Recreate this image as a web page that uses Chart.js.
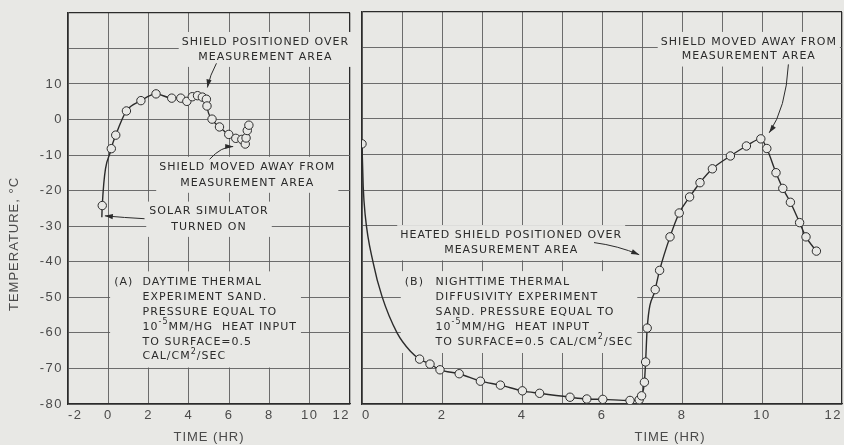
<!DOCTYPE html>
<html><head><meta charset="utf-8">
<script src="https://cdn.jsdelivr.net/npm/chart.js@4.4.0/dist/chart.umd.min.js"></script>
<style>
html,body{margin:0;padding:0;background:#e8e8e5;overflow:hidden;width:844px;height:445px}
#a{position:absolute;left:0;top:0}
#b{position:absolute;left:340px;top:0}
</style></head><body>
<canvas id="a" width="372" height="445"></canvas>
<canvas id="b" width="524" height="445"></canvas>
<script>
// ---- data ----
const dayTime   = [-0.32, -0.3, 0.15, 0.37, 0.9, 1.62, 2.37, 3.15, 3.6, 3.9, 4.17, 4.43, 4.67, 4.87, 4.9, 5.15, 5.52, 5.98, 6.33, 6.63, 6.8, 6.84, 6.9, 6.98];
const dayTemp   = [-27.5, -24.2, -8.2, -4.4, 2.4, 5.3, 7.2, 6.0, 6.0, 5.1, 6.4, 6.7, 6.3, 5.7, 3.8, 0.1, -2.1, -4.2, -5.3, -5.6, -6.9, -5.2, -3.1, -1.6];
const dayMarked = [0,1,1,1,1,1,1,1,1,1,1,1,1,1,1,1,1,1,1,1,1,1,1,1];

const nightTime   = [0, 0.03, 0.08, 0.28, 0.5, 0.88, 1.21, 1.44, 1.70, 1.95, 2.43, 2.96, 3.46, 4.01, 4.44, 5.2, 5.62, 6.02, 6.7, 6.93, 6.99, 7.06, 7.09, 7.13, 7.33, 7.44, 7.70, 7.93, 8.19, 8.45, 8.76, 9.21, 9.61, 9.97, 10.12, 10.35, 10.52, 10.71, 10.94, 11.1, 11.36];
const nightTemp   = [-7, -18.9, -27, -40.4, -49.8, -60.1, -65.2, -67.4, -68.8, -70.4, -71.5, -73.6, -74.7, -76.3, -77.0, -78.1, -78.6, -78.7, -79.0, -78.8, -77.7, -73.9, -68.2, -58.7, -47.9, -42.5, -33.1, -26.4, -21.9, -17.9, -14.0, -10.4, -7.6, -5.6, -8.3, -15.1, -19.5, -23.4, -29.1, -33.1, -37.1];
const nightMarked = [1,0,0,0,0,0,0,1,1,1,1,1,1,1,1,1,1,1,1,1,1,1,1,1,1,1,1,1,1,1,1,1,1,1,1,1,1,1,1,1,1];

const tempTickLabels = [-80,-70,-60,-50,-40,-30,-20,-10,0,10];
const dayTimeLabels  = [-2,0,2,4,6,8,10,12];
const nightTimeLabels= [0,2,4,6,8,10,12];

const yTitle = 'TEMPERATURE, \u00B0C';
const xTitle = 'TIME (HR)';

const INK = '#2b2b2b', GRID = '#5e5e5e', BG = '#e8e8e5', TICKC = '#4a4a4a';
const ANNO_FONT = '11px "DejaVu Sans"';

const toXY = (xs, ys) => xs.map((x, i) => ({x, y: ys[i]}));

function drawArrow(ctx, p0, c, p1) {
  ctx.save();
  ctx.strokeStyle = INK; ctx.fillStyle = INK; ctx.lineWidth = 1;
  ctx.beginPath(); ctx.moveTo(p0.x, p0.y); ctx.quadraticCurveTo(c.x, c.y, p1.x, p1.y); ctx.stroke();
  const ang = Math.atan2(p1.y - c.y, p1.x - c.x);
  const L = 8, W = 2.6;
  ctx.beginPath();
  ctx.moveTo(p1.x, p1.y);
  ctx.lineTo(p1.x - L*Math.cos(ang) + W*Math.sin(ang), p1.y - L*Math.sin(ang) - W*Math.cos(ang));
  ctx.lineTo(p1.x - L*Math.cos(ang) - W*Math.sin(ang), p1.y - L*Math.sin(ang) + W*Math.cos(ang));
  ctx.closePath(); ctx.fill();
  ctx.restore();
}

// draw text lines (supports [text, super] pieces), with a background box that hides the grid
function drawBlock(ctx, items, pad) {
  ctx.save();
  ctx.font = ANNO_FONT;
  ctx.letterSpacing = '1px';
  ctx.textBaseline = 'middle';
  let minX = Infinity, maxX = -Infinity, minY = Infinity, maxY = -Infinity;
  const laid = items.map(it => {
    const parts = Array.isArray(it.text) ? it.text : [[it.text, 0]];
    let w = 0;
    parts.forEach(p => { ctx.font = p[1] ? '8px "DejaVu Sans"' : ANNO_FONT; w += ctx.measureText(p[0]).width; });
    let x0 = it.align === 'center' ? it.x - w/2 : it.x;
    minX = Math.min(minX, x0); maxX = Math.max(maxX, x0 + w);
    minY = Math.min(minY, it.y - 7); maxY = Math.max(maxY, it.y + 7);
    return {parts, x0, y: it.y};
  });
  ctx.fillStyle = BG;
  ctx.fillRect(minX - pad, minY - pad, maxX - minX + 2*pad, maxY - minY + 2*pad);
  ctx.fillStyle = INK;
  laid.forEach(l => {
    let x = l.x0;
    l.parts.forEach(p => {
      ctx.font = p[1] ? '8px "DejaVu Sans"' : ANNO_FONT;
      ctx.fillText(p[0], x, p[1] ? l.y - 5 : l.y);
      x += ctx.measureText(p[0]).width;
    });
  });
  ctx.restore();
}

function scalesFor(xMin, xMax, xStep, labelsX, showY, tickAlign) {
  return {
    x: {
      type: 'linear', min: xMin, max: xMax,
      afterFit: s => { s.height = 41; },
      afterBuildTicks: s => { const t=[]; for (let v=xMin; v<=xMax+1e-9; v+=xStep) t.push({value: v}); s.ticks = t; },
      ticks: {
        autoSkip: false, maxRotation: 0, padding: 4, color: TICKC, align: tickAlign,
        font: {family: '"Liberation Sans"', size: 13},
        callback: v => labelsX.includes(v) ? String(v) : ''
      },
      grid: { color: c => (c.tick && c.tick.value === xMax) ? INK : GRID, lineWidth: c => (c.tick && c.tick.value === xMax) ? 1.3 : 0.9, drawTicks: false },
      border: { display: true, color: INK, width: 1.3 }
    },
    y: {
      type: 'linear', min: -80, max: 30,
      afterFit: s => { s.width = showY ? 68 : 22; },
      afterBuildTicks: s => { const t=[]; for (let v=-80; v<=30; v+=10) t.push({value: v}); s.ticks = t; },
      ticks: {
        display: showY, padding: 5, color: TICKC,
        font: {family: '"Liberation Sans"', size: 13},
        callback: v => tempTickLabels.includes(v) ? String(v) : ''
      },
      grid: { color: c => (c.tick && c.tick.value === 30) ? INK : GRID, lineWidth: c => (c.tick && c.tick.value === 30) ? 1.3 : 0.9, drawTicks: false },
      border: { display: true, color: INK, width: 1.3 }
    }
  };
}

function dataset(xs, ys, marked) {
  return {
    data: toXY(xs, ys),
    borderColor: INK, borderWidth: 1.4,
    pointRadius: ctx => marked[ctx.dataIndex] ? 4.2 : 0,
    pointBackgroundColor: BG, pointBorderColor: INK, pointBorderWidth: 1,
    cubicInterpolationMode: 'monotone', fill: false
  };
}

const spacing = { id: 'spacing', beforeDraw(chart) { chart.ctx.letterSpacing = '1.5px'; } };

// ---- left panel (A) ----
const annoA = {
  id: 'annoA',
  beforeDatasetsDraw(chart) {
    const {ctx, scales: {x, y}} = chart;
    const P = (a, b) => ({x: x.getPixelForValue(a), y: y.getPixelForValue(b)});
    drawBlock(ctx, [
      {text: 'SHIELD POSITIONED OVER', x: P(7.8,0).x, y: P(0,21.8).y, align: 'center'},
      {text: 'MEASUREMENT AREA', x: P(7.8,0).x, y: P(0,17.6).y, align: 'center'}
    ], 3);
    drawBlock(ctx, [
      {text: 'SHIELD MOVED AWAY FROM', x: P(6.9,0).x, y: P(0,-13.3).y, align: 'center'},
      {text: 'MEASUREMENT AREA', x: P(6.9,0).x, y: P(0,-17.8).y, align: 'center'}
    ], 3);
    drawBlock(ctx, [
      {text: 'SOLAR SIMULATOR', x: P(5.0,0).x, y: P(0,-25.9).y, align: 'center'},
      {text: 'TURNED ON', x: P(5.0,0).x, y: P(0,-30.2).y, align: 'center'}
    ], 3);
    const lx = P(1.7,0).x, y0 = -45.8, dy = 4.17;
    drawBlock(ctx, [
      {text: '(A)', x: P(0.29,0).x, y: P(0,y0).y, align: 'left'},
      {text: 'DAYTIME THERMAL', x: lx, y: P(0,y0).y, align: 'left'},
      {text: 'EXPERIMENT SAND.', x: lx, y: P(0,y0-dy).y, align: 'left'},
      {text: 'PRESSURE EQUAL TO', x: lx, y: P(0,y0-2*dy).y, align: 'left'},
      {text: [['10',0],['-5',1],['MM/HG  HEAT INPUT',0]], x: lx, y: P(0,y0-3*dy).y, align: 'left'},
      {text: 'TO SURFACE=0.5', x: lx, y: P(0,y0-4*dy).y, align: 'left'},
      {text: [['CAL/CM',0],['2',1],['/SEC',0]], x: lx, y: P(0,y0-5*dy).y, align: 'left'}
    ], 4);
    drawArrow(ctx, P(5.37,15.8), P(5.05,12.5), P(4.92,9.0));
    drawArrow(ctx, P(5.03,-11.2), P(5.6,-7.6), P(6.2,-7.6));
    drawArrow(ctx, P(1.8,-27.9), P(0.8,-27.6), P(-0.17,-27.1));
  },
  afterDraw(chart) {
    const {ctx, chartArea, scales: {y}} = chart;
    ctx.save();
    ctx.letterSpacing = '1px';
    ctx.fillStyle = TICKC; ctx.font = '13px "Liberation Sans"';
    ctx.textAlign = 'center'; ctx.textBaseline = 'middle';
    ctx.fillText(xTitle, (chartArea.left + chartArea.right)/2, 437);
    ctx.translate(14, y.getPixelForValue(-35));
    ctx.rotate(-Math.PI/2);
    ctx.fillText(yTitle, 0, 0);
    ctx.restore();
  }
};

new Chart(document.getElementById('a'), {
  type: 'line',
  data: { datasets: [dataset(dayTime, dayTemp, dayMarked)] },
  options: {
    responsive: false, animation: false,
    layout: { padding: { top: 12, right: 22, left: 0, bottom: 0 } },
    plugins: { legend: {display: false}, tooltip: {enabled: false} },
    scales: scalesFor(-2, 12, 2, dayTimeLabels, true, 'inner')
  },
  plugins: [spacing, annoA]
});

// ---- right panel (B) ----
const annoB = {
  id: 'annoB',
  beforeDatasetsDraw(chart) {
    const {ctx, scales: {x, y}} = chart;
    const P = (a, b) => ({x: x.getPixelForValue(a), y: y.getPixelForValue(b)});
    drawBlock(ctx, [
      {text: 'HEATED SHIELD POSITIONED OVER', x: P(3.73,0).x, y: P(0,-32.6).y, align: 'center'},
      {text: 'MEASUREMENT AREA', x: P(3.73,0).x, y: P(0,-36.9).y, align: 'center'}
    ], 3);
    const lx = P(1.84,0).x, y0 = -45.8, dy = 4.2;
    drawBlock(ctx, [
      {text: '(B)', x: P(1.07,0).x, y: P(0,y0).y, align: 'left'},
      {text: 'NIGHTTIME THERMAL', x: lx, y: P(0,y0).y, align: 'left'},
      {text: 'DIFFUSIVITY EXPERIMENT', x: lx, y: P(0,y0-dy).y, align: 'left'},
      {text: 'SAND. PRESSURE EQUAL TO', x: lx, y: P(0,y0-2*dy).y, align: 'left'},
      {text: [['10',0],['-5',1],['MM/HG  HEAT INPUT',0]], x: lx, y: P(0,y0-3*dy).y, align: 'left'},
      {text: [['TO SURFACE=0.5 CAL/CM',0],['2',1],['/SEC',0]], x: lx, y: P(0,y0-4*dy).y, align: 'left'}
    ], 4);
    drawBlock(ctx, [
      {text: 'SHIELD MOVED AWAY FROM', x: P(9.67,0).x, y: P(0,21.6).y, align: 'center'},
      {text: 'MEASUREMENT AREA', x: P(9.67,0).x, y: P(0,17.5).y, align: 'center'}
    ], 3);
    drawArrow(ctx, P(5.8,-34.7), P(6.4,-35.6), P(6.93,-38.1));
    drawArrow(ctx, P(10.66,15.3), P(10.6,3), P(10.18,-3.9));
  },
  afterDraw(chart) {
    const {ctx, scales: {x}} = chart;
    ctx.save();
    ctx.letterSpacing = '1px';
    ctx.fillStyle = TICKC; ctx.font = '13px "Liberation Sans"';
    ctx.textAlign = 'center'; ctx.textBaseline = 'middle';
    ctx.fillText(xTitle, x.getPixelForValue(7.7), 437);
    ctx.restore();
  }
};

new Chart(document.getElementById('b'), {
  type: 'line',
  data: { datasets: [dataset(nightTime, nightTemp, nightMarked)] },
  options: {
    responsive: false, animation: false,
    layout: { padding: { top: 12, right: 22, left: 0, bottom: 0 } },
    plugins: { legend: {display: false}, tooltip: {enabled: false} },
    scales: scalesFor(0, 12, 1, nightTimeLabels, false, 'inner')
  },
  plugins: [spacing, annoB]
});
</script>
</body></html>
